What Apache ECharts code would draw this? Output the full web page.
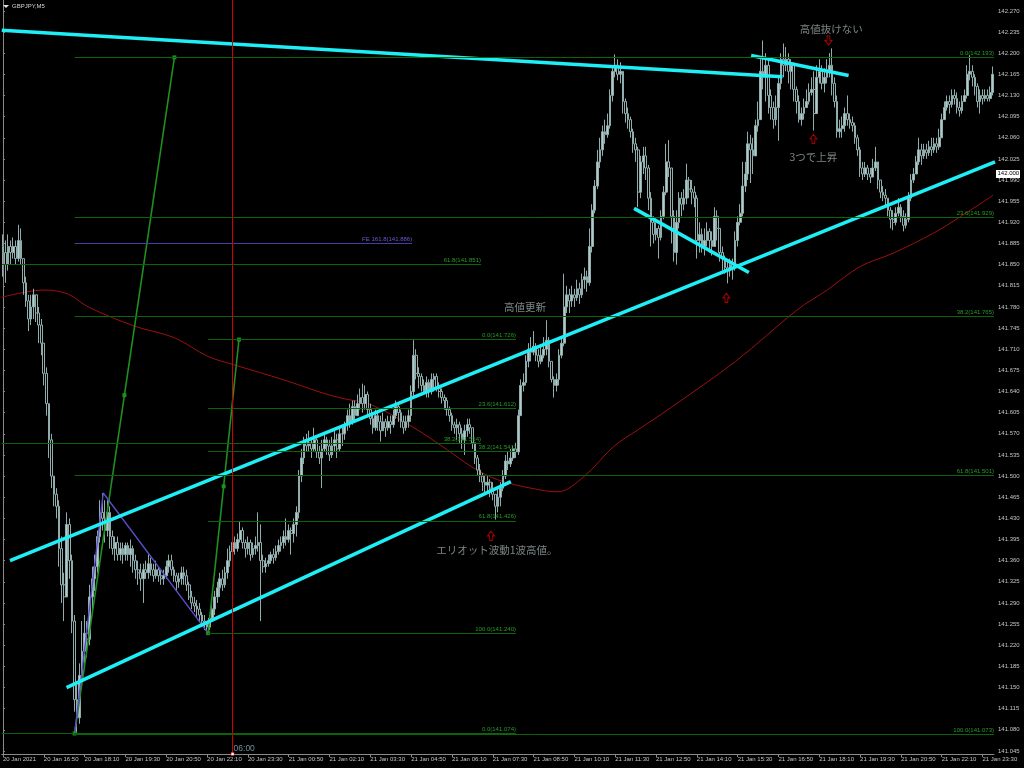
<!DOCTYPE html>
<html>
<head>
<meta charset="utf-8">
<title>GBPJPY,M5</title>
<script src="https://cdn.jsdelivr.net/npm/echarts@6/dist/echarts.min.js"></script>
<style>
  html, body { margin: 0; padding: 0; background: #000; }
  #chart { width: 1024px; height: 768px; }
</style>
</head>
<body>
<div id="chart"></div>
<script>
// ---- GBPJPY M5, 20 Jan 15:30 .. 21 Jan 23:50 ----
const symbolName = 'GBPJPY,M5';
const firstOpen = 141.88;
const currentPrice = 142.000;

const closes = [
  141.87,141.85,141.88,141.87,141.88,141.86,141.89,141.86,141.82,141.79,
  141.76,141.78,141.80,141.77,141.75,141.72,141.67,141.62,141.56,141.50,
  141.47,141.45,141.38,141.32,141.30,141.42,141.36,141.26,141.13,141.10,
  141.17,141.21,141.24,141.23,141.30,141.33,141.35,141.40,141.44,141.43,
  141.41,141.44,141.40,141.38,141.39,141.37,141.38,141.37,141.385,141.37,
  141.38,141.36,141.345,141.34,141.33,141.345,141.34,141.355,141.345,141.335,
  141.345,141.335,141.33,141.335,141.35,141.36,141.345,141.335,141.325,141.33,
  141.34,141.335,141.32,141.30,141.29,141.285,141.28,141.27,141.26,141.255,
  141.25,141.265,141.28,141.30,141.315,141.33,141.32,141.34,141.36,141.375,
  141.39,141.38,141.395,141.41,141.39,141.38,141.39,141.37,141.38,141.385,
  141.39,141.36,141.35,141.355,141.36,141.37,141.365,141.375,141.385,141.39,
  141.40,141.395,141.41,141.405,141.42,141.44,141.50,141.53,141.56,141.55,
  141.555,141.545,141.56,141.54,141.53,141.545,141.56,141.55,141.535,141.55,
  141.56,141.545,141.57,141.57,141.585,141.60,141.59,141.615,141.60,141.62,
  141.63,141.62,141.635,141.61,141.595,141.58,141.60,141.59,141.575,141.59,
  141.58,141.59,141.585,141.60,141.615,141.605,141.59,141.58,141.59,141.60,
  141.64,141.70,141.67,141.665,141.65,141.64,141.655,141.64,141.66,141.665,
  141.645,141.64,141.63,141.625,141.61,141.60,141.585,141.58,141.585,141.57,
  141.56,141.575,141.585,141.58,141.555,141.53,141.51,141.50,141.49,141.485,
  141.49,141.48,141.47,141.45,141.465,141.48,141.50,141.525,141.52,141.53,
  141.545,141.54,141.60,141.65,141.655,141.69,141.71,141.705,141.715,141.70,
  141.69,141.70,141.71,141.725,141.69,141.66,141.65,141.66,141.70,141.72,
  141.78,141.80,141.79,141.80,141.795,141.81,141.80,141.825,141.83,141.82,
  141.88,141.94,141.98,142.02,142.04,142.07,142.065,142.08,142.13,142.17,
  142.18,142.165,142.17,142.12,142.10,142.09,142.07,142.05,142.04,141.97,
  142.02,142.03,142.01,141.96,141.92,141.90,141.91,141.895,141.93,141.97,
  142.02,142.01,141.93,141.87,141.92,141.96,141.95,141.96,141.99,141.975,
  141.97,141.96,141.89,141.90,141.88,141.89,141.905,141.89,141.88,141.93,
  141.91,141.87,141.86,141.845,141.84,141.85,141.845,141.89,141.92,141.935,
  141.98,142.00,142.05,142.04,142.03,142.08,142.09,142.17,142.16,142.18,
  142.13,142.11,142.09,142.11,142.15,142.19,142.18,142.19,142.17,142.18,
  142.14,142.12,142.09,142.10,142.11,142.12,142.135,142.14,142.10,142.16,
  142.17,142.15,142.16,142.17,142.18,142.15,142.12,142.07,142.075,142.08,
  142.10,142.09,142.085,142.08,142.06,142.04,142.01,142.00,142.01,142.00,
  141.995,142.01,142.02,141.99,141.97,141.965,141.96,141.94,141.925,141.92,
  141.935,141.945,141.93,141.915,141.925,141.96,141.99,142.00,142.02,142.04,
  142.03,142.04,142.035,142.045,142.04,142.05,142.045,142.06,142.09,142.11,
  142.12,142.115,142.13,142.125,142.11,142.105,142.12,142.13,142.165,142.17,
  142.16,142.145,142.12,142.13,142.125,142.13,142.125,142.135,142.165
];

const highs = [
  141.90,141.89,141.90,141.89,141.895,141.89,141.916,141.91,141.86,141.83,
  141.80,141.80,141.81,141.80,141.78,141.76,141.72,141.68,141.62,141.57,
  141.50,141.48,141.46,141.40,141.34,141.44,141.43,141.37,141.27,141.16,
  141.19,141.26,141.27,141.26,141.32,141.35,141.37,141.41,141.46,141.472,
  141.46,141.46,141.45,141.41,141.40,141.40,141.39,141.39,141.39,141.39,
  141.395,141.385,141.37,141.36,141.355,141.355,141.36,141.37,141.365,141.355,
  141.36,141.35,141.345,141.345,141.36,141.37,141.37,141.35,141.34,141.34,
  141.35,141.35,141.345,141.325,141.31,141.30,141.295,141.29,141.275,141.27,
  141.26,141.27,141.29,141.31,141.325,141.34,141.345,141.35,141.38,141.385,
  141.395,141.40,141.405,141.425,141.415,141.395,141.40,141.395,141.39,141.40,
  141.44,141.42,141.37,141.365,141.37,141.375,141.38,141.385,141.395,141.40,
  141.41,141.43,141.42,141.415,141.43,141.45,141.51,141.545,141.565,141.57,
  141.575,141.56,141.58,141.565,141.55,141.56,141.57,141.565,141.56,141.565,
  141.575,141.57,141.58,141.58,141.59,141.61,141.62,141.625,141.625,141.635,
  141.645,141.653,141.65,141.64,141.62,141.605,141.61,141.605,141.60,141.605,
  141.595,141.60,141.60,141.61,141.625,141.62,141.61,141.60,141.60,141.61,
  141.65,141.725,141.71,141.68,141.67,141.66,141.665,141.66,141.67,141.67,
  141.67,141.655,141.645,141.635,141.63,141.615,141.605,141.59,141.595,141.59,
  141.58,141.585,141.595,141.595,141.58,141.555,141.535,141.52,141.505,141.50,
  141.50,141.495,141.49,141.47,141.48,141.49,141.51,141.535,141.54,141.545,
  141.55,141.555,141.61,141.66,141.67,141.70,141.72,141.73,141.74,141.72,
  141.71,141.715,141.73,141.758,141.73,141.69,141.665,141.67,141.71,141.73,
  141.835,141.815,141.81,141.815,141.81,141.825,141.82,141.835,141.845,141.84,
  141.91,141.95,141.99,142.04,142.06,142.08,142.09,142.10,142.14,142.18,
  142.198,142.19,142.185,142.17,142.125,142.11,142.095,142.075,142.06,142.045,
  142.03,142.045,142.045,142.015,141.97,141.93,141.92,141.915,141.94,141.98,
  142.05,142.056,141.99,141.94,141.94,141.97,141.97,141.975,142.017,141.995,
  141.99,141.98,141.965,141.92,141.91,141.91,141.92,141.91,141.905,141.945,
  141.94,141.91,141.88,141.865,141.855,141.86,141.86,141.905,141.93,141.95,
  142.02,142.02,142.07,142.065,142.06,142.09,142.12,142.19,142.221,142.20,
  142.19,142.14,142.12,142.13,142.16,142.20,142.216,142.21,142.20,142.19,
  142.185,142.145,142.13,142.11,142.125,142.14,142.15,142.16,142.17,142.18,
  142.19,142.18,142.175,142.19,142.20,142.208,142.16,142.13,142.09,142.095,
  142.11,142.13,142.10,142.095,142.085,142.065,142.045,142.02,142.02,142.015,
  142.01,142.025,142.045,142.02,141.99,141.98,141.975,141.96,141.945,141.94,
  141.945,141.96,141.95,141.94,141.935,141.97,142.00,142.01,142.03,142.06,
  142.05,142.05,142.05,142.055,142.06,142.06,142.06,142.075,142.10,142.12,
  142.13,142.13,142.14,142.14,142.135,142.12,142.13,142.14,142.18,142.197,
  142.18,142.165,142.15,142.14,142.14,142.14,142.14,142.145,142.178
];

const lows = [
  141.83,141.82,141.84,141.85,141.86,141.85,141.855,141.85,141.80,141.78,
  141.74,141.75,141.76,141.755,141.72,141.70,141.65,141.60,141.53,141.48,
  141.45,141.43,141.35,141.29,141.26,141.30,141.33,141.24,141.11,141.073,
  141.09,141.15,141.19,141.20,141.22,141.28,141.31,141.34,141.39,141.41,
  141.39,141.40,141.38,141.37,141.36,141.36,141.36,141.355,141.36,141.36,
  141.35,141.34,141.33,141.32,141.31,141.29,141.33,141.33,141.335,141.325,
  141.33,141.325,141.32,141.32,141.33,141.34,141.335,141.325,141.31,141.315,
  141.32,141.32,141.31,141.295,141.28,141.275,141.265,141.26,141.25,141.245,
  141.240,141.245,141.26,141.27,141.29,141.30,141.31,141.315,141.33,141.35,
  141.37,141.37,141.375,141.39,141.38,141.365,141.37,141.36,141.365,141.37,
  141.375,141.26,141.34,141.34,141.35,141.355,141.355,141.36,141.37,141.375,
  141.38,141.385,141.39,141.37,141.39,141.40,141.43,141.49,141.52,141.54,
  141.54,141.53,141.54,141.53,141.52,141.48,141.54,141.535,141.525,141.53,
  141.54,141.53,141.54,141.55,141.56,141.575,141.58,141.585,141.59,141.60,
  141.61,141.605,141.61,141.60,141.585,141.57,141.575,141.575,141.557,141.575,
  141.565,141.575,141.57,141.58,141.595,141.59,141.58,141.57,141.575,141.58,
  141.59,141.63,141.66,141.645,141.64,141.635,141.63,141.63,141.635,141.64,
  141.64,141.63,141.62,141.61,141.60,141.59,141.575,141.57,141.56,141.555,
  141.545,141.535,141.565,141.57,141.545,141.52,141.50,141.49,141.475,141.47,
  141.475,141.465,141.46,141.428,141.44,141.45,141.475,141.495,141.51,141.515,
  141.525,141.53,141.535,141.60,141.64,141.65,141.68,141.69,141.70,141.69,
  141.68,141.685,141.695,141.70,141.68,141.655,141.63,141.64,141.65,141.695,
  141.715,141.77,141.77,141.78,141.78,141.79,141.785,141.795,141.81,141.805,
  141.815,141.87,141.935,141.975,142.01,142.03,142.05,142.06,142.075,142.12,
  142.16,142.155,142.15,142.10,142.085,142.075,142.06,142.035,142.02,141.945,
  141.96,142.00,141.99,141.94,141.88,141.885,141.89,141.86,141.89,141.925,
  141.965,141.995,141.885,141.855,141.85,141.91,141.93,141.94,141.95,141.96,
  141.95,141.945,141.86,141.87,141.87,141.865,141.88,141.87,141.865,141.88,
  141.89,141.855,141.84,141.835,141.819,141.83,141.825,141.84,141.88,141.915,
  141.93,141.97,141.99,141.985,142.00,142.03,142.07,142.10,142.14,142.12,
  142.10,142.09,142.075,142.08,142.055,142.14,142.16,142.17,142.15,142.14,
  142.12,142.10,142.085,142.08,142.09,142.11,142.115,142.13,142.072,142.11,
  142.15,142.14,142.135,142.15,142.16,142.13,142.11,142.06,142.06,142.06,
  142.07,142.08,142.075,142.07,142.05,142.03,141.995,141.99,141.995,141.99,
  141.985,141.995,142.005,141.975,141.96,141.955,141.945,141.93,141.91,141.907,
  141.915,141.93,141.92,141.905,141.91,141.92,141.955,141.985,142.00,142.015,
  142.015,142.025,142.025,142.03,142.03,142.035,142.035,142.04,142.06,142.09,
  142.105,142.10,142.11,142.115,142.10,142.095,142.10,142.12,142.125,142.155,
  142.145,142.13,142.11,142.10,142.115,142.12,142.12,142.12,142.13
];

// moving average, [bar, price]
const maPoints = [
  [-0.5,141.796],[16.4,141.808],[25.6,141.801],[33.4,141.780],[51.7,141.748],
  [67.2,141.729],[80.4,141.698],[90.7,141.684],[110.3,141.659],[123.5,141.640],
  [132.6,141.629],[144.3,141.618],[161.1,141.580],[174.3,141.543],[183.5,141.516],
  [193.9,141.494],[207.0,141.480],[217.4,141.474],[227.7,141.499],[239.4,141.549],
  [248.7,141.576],[261.7,141.613],[287.2,141.690],[311.3,141.775],[323.1,141.808],
  [336.1,141.847],[349.0,141.869],[364.7,141.902],[375.2,141.929],[388.2,141.965]
];

// price-axis ticks and time-axis tick labels
const yTicks = [
  141.045,141.080,141.115,141.150,141.185,141.220,141.255,141.290,141.325,141.360,
  141.395,141.430,141.465,141.500,141.535,141.570,141.605,141.640,141.675,141.710,
  141.745,141.780,141.815,141.850,141.885,141.920,141.955,141.990,142.025,142.060,
  142.095,142.130,142.165,142.200,142.235,142.270
];
const xTickStep = 16;
const xTickLabels = [
  '20 Jan 2021','20 Jan 16:50','20 Jan 18:10','20 Jan 19:30','20 Jan 20:50',
  '20 Jan 22:10','20 Jan 23:30','21 Jan 00:50','21 Jan 02:10','21 Jan 03:30',
  '21 Jan 04:50','21 Jan 06:10','21 Jan 07:30','21 Jan 08:50','21 Jan 10:10',
  '21 Jan 11:30','21 Jan 12:50','21 Jan 14:10','21 Jan 15:30','21 Jan 16:50',
  '21 Jan 18:10','21 Jan 19:30','21 Jan 20:50','21 Jan 22:10','21 Jan 23:30'
];

// drawn objects, anchored at [bar, price]
const trendLines = [
  [[-0.5,142.238],[305.6,142.161]],
  [[293.3,142.196],[331.5,142.163]],
  [[2.75,141.360],[388.9,142.020]],
  [[24.9,141.150],[199.1,141.491]],
  [[247.4,141.943],[292.4,141.837]]
];
const fibALevels = [0.0, 23.6, 38.2, 61.8, 100.0];
const fibAPrices = [142.193, 141.929, 141.765, 141.501, 141.073];
const fibASpan = [28.07, 388.5];
const fibBLevels = [61.8, 38.2, 0.0];
const fibBPrices = [141.851, 141.554, 141.074];
const fibBEnds = [187.4, 187.4, 201.1];
const fibBStart = -0.5;
const fibCLevels = [0.0, 23.6, 38.2, 61.8, 100.0];
const fibCPrices = [141.726, 141.612, 141.541, 141.426, 141.240];
const fibCSpan = [80.4, 201.1];
const feLevel = 161.8;
const fePrice = 141.886;
const feSpan = [28.07, 160.4];
const waveLine1 = [[28.07,141.074],[47.6,141.634],[67.2,142.193]];
const waveLine2 = [[80.4,141.240],[86.5,141.483],[92.5,141.726]];
const abcPath = [[28.07,141.074],[39.3,141.472],[80.4,141.240]];
const sessionBar = 90;
const sessionLabel = '06:00';

const notes = [
  { text: '高値更新', at: [204.6, 141.780] },
  { text: 'エリオット波動1波高値。', at: [193.6, 141.378] },
  { text: '高値抜けない', at: [324.7, 142.240] },
  { text: '3つで上昇', at: [317.7, 142.028] }
];
const arrows = [
  { dir: 'up', at: [191.3, 141.401] },
  { dir: 'down', at: [323.6, 142.221] },
  { dir: 'up', at: [317.7, 142.058] },
  { dir: 'up', at: [283.6, 141.795] }
];

// ---- build ----
const startMin = 15 * 60 + 30;
const dayNames = ['20 Jan', '21 Jan'];
const pad = n => String(n).padStart(2, '0');
const categories = closes.map((_, i) => {
  const t = startMin + 5 * i;
  const m = t % 1440;
  return dayNames[Math.floor(t / 1440)] + ' ' + pad(Math.floor(m / 60)) + ':' + pad(m % 60);
});
const ohlc = closes.map((c, i) => {
  const o = i === 0 ? firstOpen : closes[i - 1];
  const h = Math.max(highs[i], o, c);
  const l = Math.min(lows[i], o, c);
  return [o, c, l, h];
});

const FONT = 'Liberation Sans, Arial, sans-serif';
const CJK = 'Noto Sans CJK JP, sans-serif';
const CYAN = '#1eeef6';
const FIB_LINE = '#0a650a';
const FIB_TEXT = '#2a9a2a';
const Y_MIN = 141.040, Y_MAX = 142.288;
const ARROW_UP = 'path://M5 0 L10 5 L7 5 L7 10 L3 10 L3 5 L0 5 Z';
const ARROW_DOWN = 'path://M5 10 L10 5 L7 5 L7 0 L3 0 L3 5 L0 5 Z';

function fibLabel(level, price, prefix) {
  return (prefix || '') + level.toFixed(1) + '(' + price.toFixed(3) + ')';
}
function fibMarkLine(levels, prices, starts, ends, color, textColor, prefix) {
  return {
    type: 'line', xAxisIndex: 1, yAxisIndex: 0, data: [], z: 1, silent: true,
    markLine: {
      silent: true, animation: false, symbol: ['none', 'none'],
      lineStyle: { color: color, width: 1, type: 'solid' },
      label: {
        show: true, position: 'insideEndTop', formatter: '{b}', distance: [0, 1],
        color: textColor, fontSize: 6, fontFamily: FONT
      },
      emphasis: { disabled: true },
      data: levels.map((lv, k) => [
        { coord: [starts[k], prices[k]], name: fibLabel(lv, prices[k], prefix) },
        { coord: [ends[k], prices[k]] }
      ])
    }
  };
}
const fill = (n, v) => new Array(n).fill(v);

const series = [];
// moving average
series.push({
  type: 'line', xAxisIndex: 1, yAxisIndex: 0, data: maPoints, smooth: 0.35,
  symbol: 'none', z: 1, lineStyle: { color: '#9e1010', width: 1 }, silent: true
});
// fibonacci retracements and expansion
series.push(fibMarkLine(fibALevels, fibAPrices, fill(5, fibASpan[0]), fill(5, fibASpan[1]), FIB_LINE, FIB_TEXT));
series.push(fibMarkLine(fibBLevels, fibBPrices, fill(3, fibBStart), fibBEnds, FIB_LINE, FIB_TEXT));
series.push(fibMarkLine(fibCLevels, fibCPrices, fill(5, fibCSpan[0]), fill(5, fibCSpan[1]), FIB_LINE, FIB_TEXT));
series.push(fibMarkLine([feLevel], [fePrice], [feSpan[0]], [feSpan[1]], '#4a3aa8', '#6a5cd0', 'FE '));
// session marker
series.push({
  type: 'line', xAxisIndex: 1, yAxisIndex: 0, data: [], z: 1, silent: true,
  markLine: {
    silent: true, animation: false, symbol: ['none', 'none'], label: { show: false },
    lineStyle: { color: '#d20000', width: 1, type: 'solid' },
    data: [{ xAxis: sessionBar }]
  }
});
// candles
series.push({
  type: 'candlestick', xAxisIndex: 0, yAxisIndex: 0, data: ohlc, z: 2,
  barWidth: 2.2, silent: true,
  itemStyle: {
    color: '#b2caca', color0: '#000000',
    borderColor: '#8fadad', borderColor0: '#8fadad', borderWidth: 1
  }
});
// wave lines
[waveLine1, waveLine2].forEach(w => series.push({
  type: 'line', xAxisIndex: 1, yAxisIndex: 0, data: w, z: 3, silent: true,
  symbol: 'rect', symbolSize: 4, showAllSymbol: true,
  itemStyle: { color: '#1f8f1f' }, lineStyle: { color: '#1f8f1f', width: 1.6 }
}));
series.push({
  type: 'line', xAxisIndex: 1, yAxisIndex: 0, data: abcPath, z: 3, silent: true,
  symbol: 'none', lineStyle: { color: '#5b4cc8', width: 1.4 }
});
// trend lines
trendLines.forEach(t => series.push({
  type: 'line', xAxisIndex: 1, yAxisIndex: 0, data: t, z: 4, silent: true,
  symbol: 'none', lineStyle: { color: CYAN, width: 3.6, cap: 'butt' }
}));
// text notes
series.push({
  type: 'scatter', xAxisIndex: 1, yAxisIndex: 0, z: 5, silent: true,
  symbolSize: 1, itemStyle: { color: 'rgba(0,0,0,0)' },
  data: notes.map(n => ({
    value: n.at,
    label: {
      show: true, position: 'inside', formatter: n.text,
      color: '#9aa5a5', fontSize: 10.5, fontFamily: CJK
    }
  }))
});
// hollow red arrows
series.push({
  type: 'scatter', xAxisIndex: 1, yAxisIndex: 0, z: 5, silent: true,
  symbolSize: [7, 9],
  data: arrows.map(a => ({
    value: a.at,
    symbol: a.dir === 'up' ? ARROW_UP : ARROW_DOWN,
    itemStyle: { color: 'rgba(0,0,0,0)', borderColor: '#d40000', borderWidth: 1 }
  }))
});

const chart = echarts.init(document.getElementById('chart'), null, { renderer: 'canvas' });
const option = {
  backgroundColor: '#000000',
  animation: false,
  grid: { left: 0, right: 30, top: 0, bottom: 14, containLabel: false },
  xAxis: [
    {
      type: 'category', data: categories, boundaryGap: true,
      axisLine: { show: true, lineStyle: { color: '#8a8a8a', width: 1 } },
      axisTick: {
        show: true, alignWithLabel: true, length: 3,
        interval: (i) => i % xTickStep === 0,
        lineStyle: { color: '#8a8a8a' }
      },
      axisLabel: {
        show: true, interval: (i) => i % xTickStep === 0,
        formatter: (v, i) => xTickLabels[Math.round(i / xTickStep)] || '',
        align: 'left', margin: 2, color: '#c4c4c4', fontSize: 6, fontFamily: FONT
      },
      splitLine: { show: false }
    },
    { type: 'value', min: -0.5, max: closes.length - 0.5, show: false, splitLine: { show: false } }
  ],
  yAxis: [{
    type: 'value', position: 'right', min: Y_MIN, max: Y_MAX, scale: true,
    splitLine: { show: false },
    axisLine: { show: true, lineStyle: { color: '#8a8a8a', width: 1 } },
    axisTick: { show: true, length: 2, customValues: yTicks, lineStyle: { color: '#8a8a8a' } },
    axisLabel: {
      show: true, customValues: yTicks, formatter: v => Number(v).toFixed(3),
      margin: 4, color: '#c4c4c4', fontSize: 6, fontFamily: FONT
    }
  }],
  series: series
};
chart.setOption(option);

// overlay text tied to chart coordinates
const toPx = (bar, price) => chart.convertToPixel({ xAxisIndex: 1, yAxisIndex: 0 }, [bar, price]);
const sessBottom = toPx(sessionBar, Y_MIN);
const priceTag = toPx(0, currentPrice);
chart.setOption({
  graphic: [
    { type: 'polygon', shape: { points: [[3, 5], [9, 5], [6, 8]] }, style: { fill: '#e0e0e0' }, z: 10 },
    { type: 'text', x: 12, y: 3, style: { text: symbolName, fill: '#d4d4d4', fontSize: 6, fontFamily: FONT }, z: 10 },
    { type: 'text', x: sessBottom[0] + 1, y: sessBottom[1] - 10,
      style: { text: sessionLabel, fill: '#6f8f9c', fontSize: 8.5, fontFamily: FONT }, z: 10 },
    { type: 'rect', shape: { x: sessBottom[0] - 1.5, y: sessBottom[1] - 1.5, width: 3, height: 3 },
      style: { fill: '#ffffff', stroke: '#d20000', lineWidth: 0.5 }, z: 10 },
    { type: 'rect', shape: { x: 996, y: priceTag[1] - 4, width: 24, height: 8 },
      style: { fill: '#ffffff' }, z: 10 },
    { type: 'text', x: 997.5, y: priceTag[1] - 3.2,
      style: { text: currentPrice.toFixed(3), fill: '#000000', fontSize: 6, fontFamily: FONT }, z: 11 }
  ]
});
</script>
</body>
</html>
